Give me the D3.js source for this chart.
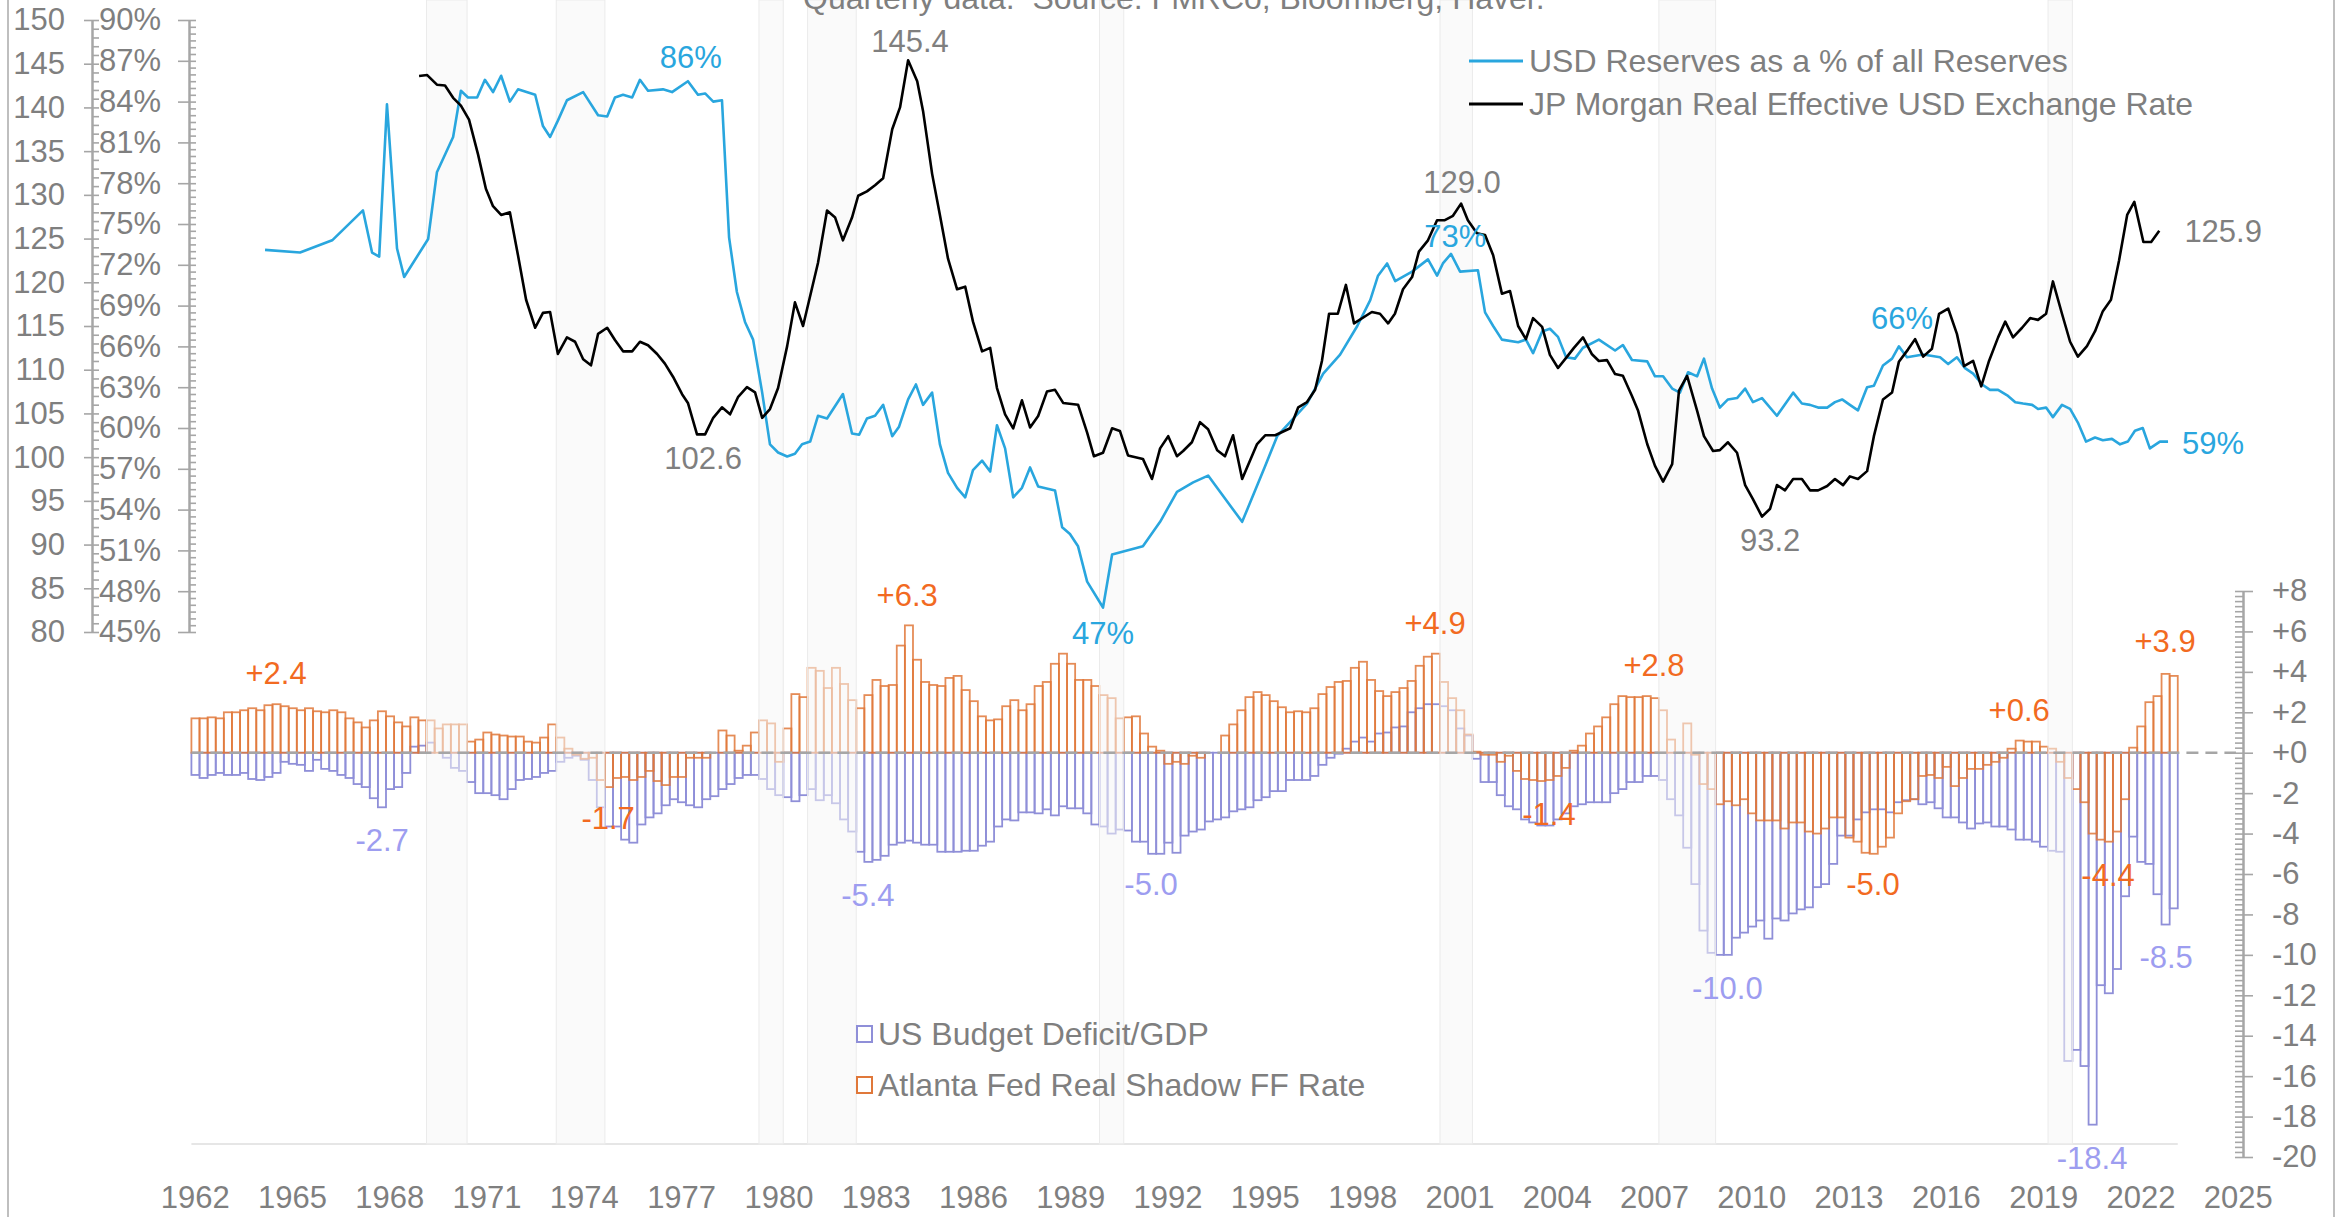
<!DOCTYPE html>
<html>
<head>
<meta charset="utf-8">
<script src="https://cdnjs.cloudflare.com/ajax/libs/d3/7.8.5/d3.min.js"></script>
<style>
  body { margin: 0; background: #fff; }
  text { font-family: Arial, "Liberation Sans", sans-serif; }
</style>
</head>
<body>
<svg id="chart"></svg>
<script>
// ---- data ----
var firstQuarter = 1962.5;   // 1962 Q3, bars are quarterly from here

// US Budget Deficit/GDP, quarterly
var deficit = [
  -1.1,-1.25,-1.1,-1.0,-1.1,-1.1,-1.0,-1.3,-1.35,-1.2,
  -1.0,-0.45,-0.55,-0.6,-0.9,-0.35,-0.8,-0.9,-1.1,-1.25,
  -1.55,-1.7,-2.25,-2.7,-1.8,-1.7,-1.0,0.3,0.35,0.5,
  0.0,-0.25,-0.75,-0.9,-1.45,-2.0,-2.0,-2.1,-2.3,-1.8,
  -1.35,-1.3,-1.2,-1.0,-0.9,-0.45,-0.25,-0.15,-0.35,-1.35,
  -2.7,-3.65,-3.65,-4.3,-4.45,-3.55,-3.2,-3.0,-2.6,-2.3,
  -2.45,
  -2.6,-2.7,-2.3,-2.15,-1.8,-1.55,-1.25,-1.1,-1.1,-1.3,
  -1.8,-2.1,-2.2,-2.4,-2.1,-1.8,-2.35,-2.1,-2.5,-3.3,
  -3.9,-4.9,-5.4,-5.3,-5.1,-4.55,-4.45,-4.35,-4.45,-4.55,
  -4.55,-4.9,-4.9,-4.9,-4.85,-4.85,-4.6,-4.4,-3.65,-3.3,
  -3.35,-2.95,-2.95,-3.0,-2.8,-3.1,-2.65,-2.75,-2.75,-3.0,
  -3.55,-3.65,-4.0,-3.8,-3.85,-4.4,-4.4,-5.0,-5.0,-4.45,
  -4.95,-4.1,-3.9,-3.8,-3.4,
  -3.3,-3.2,-2.9,-2.8,-2.7,-2.35,-2.2,-1.9,-1.9,-1.35,
  -1.35,-1.35,-1.15,-0.6,-0.25,-0.05,0.2,0.55,0.75,0.55,
  0.95,1.0,1.25,1.3,2.0,2.2,2.4,2.4,2.3,2.1,
  1.2,0.85,-0.3,-1.45,-1.45,-2.1,-2.65,-2.8,-3.3,-3.45,
  -3.6,-3.6,-3.3,-3.0,-2.65,-2.55,-2.45,-2.45,-2.45,-2.0,
  -1.8,-1.45,-1.45,-1.15,-1.15,-1.35,-2.3,-3.1,-4.7,-6.5,
  -8.8,-9.9,-10.0,-10.0,
  -9.15,-8.9,-8.6,-8.3,-9.2,-8.2,-8.3,-7.95,-7.75,-7.65,
  -6.65,-6.5,-5.5,-4.1,-4.1,-3.3,-2.95,-2.8,-2.8,-2.95,
  -2.45,-2.35,-2.3,-2.55,-2.45,-2.75,-3.2,-3.2,-3.45,-3.75,
  -3.5,-3.45,-3.65,-3.65,-3.8,-4.3,-4.3,-4.4,-4.65,-4.85,
  -4.9,-15.25,-14.7,-15.5,-18.4,-11.5,-11.9,-10.7,-7.1,-4.15,
  -5.4,-5.5,-7.0,-8.5,-7.7
];

// Atlanta Fed Real Shadow FF Rate, quarterly
var shadowRate = [
  1.7,1.7,1.75,1.7,2.0,2.0,2.1,2.2,2.1,2.35,
  2.4,2.3,2.2,2.1,2.2,2.05,2.0,2.1,2.0,1.7,
  1.5,1.25,1.6,2.05,1.8,1.5,1.3,1.75,1.6,1.6,
  1.2,1.4,1.4,1.4,0.55,0.65,1.0,0.9,0.85,0.8,
  0.8,0.55,0.5,0.75,1.4,0.75,0.2,-0.1,-0.3,-0.25,
  -1.35,-1.7,-1.25,-1.2,-1.35,-1.2,-0.9,-1.4,-1.6,-1.2,
  -1.2,
  -0.25,-0.25,-0.25,0.0,1.1,0.85,0.1,0.35,1.0,1.6,
  1.45,-0.45,1.2,2.9,2.75,4.2,4.05,3.2,4.2,3.4,
  2.6,2.2,2.85,3.6,3.3,3.35,5.3,6.3,4.6,3.5,
  3.35,3.3,3.7,3.8,3.1,2.55,1.8,1.6,1.65,2.3,
  2.6,2.1,2.4,3.3,3.5,4.4,4.9,4.4,3.6,3.6,
  3.3,2.85,2.7,1.7,1.75,1.8,0.95,0.3,0.1,-0.55,
  -0.45,-0.55,-0.15,-0.25,0.0,
  0.0,0.85,1.4,2.1,2.75,3.0,2.85,2.55,2.25,2.0,
  2.05,2.0,2.2,2.9,3.25,3.5,3.55,4.2,4.5,3.6,
  3.05,2.8,3.0,3.2,3.55,4.3,4.75,4.9,3.5,2.7,
  2.1,0.9,0.05,-0.1,-0.1,-0.45,-0.15,-0.9,-1.3,-1.35,
  -1.4,-1.35,-1.15,-0.75,0.1,0.35,0.95,1.3,1.75,2.4,
  2.8,2.75,2.75,2.8,2.7,2.1,0.65,0.0,1.45,-0.1,
  -1.55,-1.8,-2.55,-2.4,
  -2.6,-2.3,-3.0,-3.35,-3.35,-3.35,-3.75,-3.45,-3.45,-3.9,
  -4.0,-3.75,-3.2,-3.2,-4.2,-4.4,-4.95,-5.0,-4.65,-4.2,
  -3.0,-2.4,-2.3,-1.15,-1.1,-1.25,-0.7,-1.65,-1.25,-0.8,
  -0.8,-0.6,-0.45,-0.25,0.2,0.6,0.55,0.55,0.3,0.2,
  -0.45,-1.25,-1.8,-2.45,-4.0,-4.3,-4.4,-3.9,-2.3,0.25,
  1.3,2.5,2.8,3.9,3.8
];

// USD Reserves as a % of all Reserves
var reserveYears = [
  1964.77,1965.85,1966.84,1967.79,1968.07,1968.29,1968.53,1968.84,1969.06,1969.8,
  1970.07,1970.57,1970.81,1971.03,1971.31,1971.55,1971.8,1972.05,1972.32,1972.57,
  1973.1,1973.34,1973.56,1973.8,1974.08,1974.58,1975.04,1975.32,1975.56,1975.81,
  1976.09,1976.33,1976.58,1977.04,1977.32,1977.81,1978.12,1978.34,1978.59,1978.86,
  1979.08,1979.32,1979.57,1979.82,1980.1,1980.34,1980.59,1980.87,1981.11,1981.33,
  1981.58,1981.82,1982.1,1982.59,1982.87,1983.09,1983.33,1983.58,1983.83,1984.11,
  1984.32,1984.6,1984.84,1985.06,1985.34,1985.58,1985.83,1986.11,1986.36,1986.6,
  1986.88,1987.13,1987.34,1987.59,1987.84,1988.11,1988.36,1988.61,1989.13,1989.35,
  1989.59,1989.84,1990.12,1990.61,1990.89,1991.35,1991.84,1992.37,1992.89,1993.39,
  1993.85,1994.9,1995.61,1995.98,1996.44,1996.9,1997.4,1997.92,1998.45,1998.85,
  1999.09,1999.37,1999.62,2000.14,2000.63,2000.91,2001.09,2001.34,2001.62,2002.17,
  2002.39,2002.64,2002.91,2003.41,2003.65,2003.87,2004.15,2004.39,2004.64,2004.89,
  2005.16,2005.41,2005.9,2006.4,2006.64,2006.92,2007.39,2007.63,2007.88,2008.16,
  2008.4,2008.65,2008.93,2009.14,2009.39,2009.63,2009.88,2010.16,2010.41,2010.65,
  2010.93,2011.39,2011.89,2012.16,2012.41,2012.66,2012.94,2013.18,2013.4,2013.64,
  2013.89,2014.17,2014.38,2014.66,2014.94,2015.15,2015.4,2015.9,2016.42,2016.67,
  2016.94,2017.19,2017.44,2017.72,2017.96,2018.21,2018.49,2018.74,2018.98,2019.26,
  2019.44,2019.69,2019.9,2020.18,2020.43,2020.67,2020.92,2021.2,2021.44,2021.72,
  2021.97,2022.21,2022.43,2022.67,2022.89,2023.2,2023.45
];
var reservePct = [
  73.1,72.9,73.8,76.0,72.9,72.6,83.8,73.2,71.1,73.9,
  78.8,81.4,84.8,84.3,84.3,85.6,84.7,85.9,84.0,84.9,
  84.5,82.2,81.4,82.6,84.1,84.7,83.0,82.9,84.3,84.5,
  84.3,85.6,84.8,84.9,84.7,85.5,84.5,84.6,84.0,84.1,
  74.0,70.0,67.8,66.5,62.6,58.8,58.2,57.9,58.1,58.8,
  59.0,60.9,60.7,62.5,59.6,59.5,60.7,60.9,61.7,59.4,
  60.1,62.1,63.2,61.7,62.6,58.8,56.7,55.6,54.9,56.9,
  57.6,56.8,60.2,58.5,54.9,55.6,57.1,55.7,55.4,52.7,
  52.2,51.3,48.7,46.8,50.7,51.0,51.3,53.1,55.3,56.0,
  56.5,53.1,57.2,59.4,60.6,61.8,64.0,65.4,67.5,69.4,
  71.2,72.1,70.8,71.5,72.4,71.2,72.1,72.8,71.5,71.6,
  68.5,67.5,66.5,66.3,66.5,65.5,67.1,67.3,66.7,65.2,
  65.1,65.9,66.5,65.7,66.1,65.0,64.9,63.8,63.8,62.9,
  62.6,64.1,63.8,65.1,62.9,61.5,62.1,62.2,62.9,61.9,
  62.2,60.9,62.6,61.8,61.7,61.5,61.5,61.9,62.1,61.7,
  61.3,63.0,63.1,64.6,65.1,66.0,65.2,65.4,65.2,64.7,
  65.2,64.4,64.0,63.2,62.8,62.8,62.4,61.9,61.8,61.7,
  61.4,61.5,60.8,61.7,61.4,60.4,59.0,59.3,59.1,59.2,
  58.8,59.0,59.8,60.0,58.5,59.0,59.0
];

// JP Morgan Real Effective USD Exchange Rate
var reerYears = [
  1969.52,1969.77,1970.07,1970.32,1970.57,1970.81,1971.06,1971.34,1971.58,1971.8,
  1972.05,1972.32,1972.57,1972.82,1973.1,1973.34,1973.56,1973.8,1974.08,1974.33,
  1974.58,1974.82,1975.04,1975.32,1975.56,1975.81,1976.09,1976.33,1976.58,1976.86,
  1977.1,1977.35,1977.63,1977.81,1978.09,1978.34,1978.59,1978.86,1979.11,1979.36,
  1979.63,1979.88,1980.1,1980.34,1980.59,1980.87,1981.11,1981.36,1981.82,1982.1,
  1982.35,1982.59,1982.87,1983.06,1983.33,1983.58,1983.83,1984.11,1984.35,1984.6,
  1984.88,1985.06,1985.34,1985.58,1985.83,1986.11,1986.36,1986.6,1986.88,1987.13,
  1987.34,1987.59,1987.84,1988.11,1988.36,1988.61,1988.88,1989.13,1989.38,1989.84,
  1990.12,1990.33,1990.61,1990.89,1991.13,1991.38,1991.84,1992.12,1992.37,1992.62,
  1992.89,1993.08,1993.35,1993.6,1993.85,1994.13,1994.37,1994.62,1994.9,1995.36,
  1995.61,1995.92,1996.38,1996.63,1996.9,1997.15,1997.36,1997.58,1997.85,1998.1,
  1998.35,1998.9,1999.15,1999.4,1999.61,1999.86,2000.14,2000.35,2000.63,2000.91,
  2001.15,2001.4,2001.65,2001.86,2002.14,2002.39,2002.64,2002.91,2003.16,2003.41,
  2003.65,2003.87,2004.15,2004.39,2004.64,2004.92,2005.13,2005.41,2005.68,2005.9,
  2006.15,2006.4,2006.64,2006.92,2007.11,2007.39,2007.63,2007.88,2008.16,2008.37,
  2008.62,2008.93,2009.14,2009.42,2009.63,2009.88,2010.16,2010.41,2010.65,2010.93,
  2011.18,2011.39,2011.64,2011.89,2012.16,2012.41,2012.66,2012.94,2013.18,2013.43,
  2013.64,2013.89,2014.17,2014.38,2014.66,2014.94,2015.15,2015.43,2015.65,2015.9,
  2016.17,2016.39,2016.67,2016.94,2017.16,2017.44,2017.69,2017.93,2018.21,2018.43,
  2018.67,2018.95,2019.2,2019.44,2019.69,2019.9,2020.18,2020.43,2020.67,2020.95,
  2021.2,2021.44,2021.69,2021.94,2022.19,2022.41,2022.69,2022.93,2023.18
];
var reerValues = [
  143.6,143.7,142.6,142.5,141.1,140.2,138.6,134.6,130.7,128.7,
  127.7,128.0,123.1,118.0,114.8,116.5,116.6,111.8,113.7,113.2,
  111.2,110.5,114.1,114.8,113.4,112.1,112.1,113.2,112.8,111.8,
  110.7,109.2,107.2,106.2,102.6,102.6,104.5,105.7,104.9,106.9,
  108.0,107.4,104.5,105.5,107.9,112.7,117.7,115.0,122.2,128.2,
  127.4,124.8,127.4,129.9,130.4,131.1,131.9,137.5,140.0,145.4,
  143.0,139.6,132.4,127.7,122.7,119.2,119.5,115.5,112.1,112.5,
  107.9,104.9,103.3,106.5,103.4,104.7,107.5,107.7,106.2,106.0,
  102.8,100.1,100.5,103.3,103.0,100.2,99.8,97.5,101.0,102.4,
  100.1,100.7,101.7,104.0,103.2,100.8,100.1,102.5,97.5,101.5,
  102.5,102.5,103.3,105.7,106.3,107.7,111.0,116.4,116.4,119.7,
  115.3,116.6,116.4,115.3,116.4,119.2,120.6,123.5,124.8,127.1,
  127.1,127.6,129.0,127.1,125.6,125.4,123.1,118.7,119.0,115.0,
  113.5,115.9,114.9,111.7,110.2,111.5,112.5,113.7,111.8,111.0,
  111.1,109.5,109.3,107.0,105.3,101.5,99.0,97.2,99.2,107.6,
  109.3,105.3,102.4,100.7,100.8,101.7,100.5,96.8,95.2,93.2,
  94.1,96.8,96.2,97.5,97.5,96.2,96.2,96.7,97.5,96.8,
  97.8,97.5,98.4,102.4,106.6,107.4,110.9,112.3,113.5,111.5,
  112.4,116.4,117.0,114.1,110.4,111.0,108.1,111.0,113.7,115.5,
  113.7,114.8,115.9,115.7,116.4,120.1,116.4,113.2,111.5,112.7,
  114.4,116.7,118.0,122.5,127.7,129.2,124.6,124.6,125.9
];

// NBER recessions (start, end) in years
var recessions = [
  [1969.75, 1971.0], [1973.75, 1975.25], [1980.0, 1980.75], [1981.5, 1983.0],
  [1990.5, 1991.25], [2001.0, 2002.0], [2007.75, 2009.5], [2019.75, 2020.5]
];

// tick labels
var yearTicks = d3.range(1962, 2026, 3);
var rateTicks = d3.range(80, 151, 5);
var pctTicks = d3.range(45, 91, 3);
var barTicks = d3.range(-20, 9, 2);

// value call-outs: [year, label position in axis units, text]
var rateNotes = [[1984.66, 147.6, "145.4"], [1978.28, 99.9, "102.6"], [2001.68, 131.5, "129.0"],
                 [2011.18, 90.5, "93.2"], [2025.15, 125.9, "125.9"]];
var pctNotes = [[1977.9, 87.3, "86%"], [1990.61, 44.9, "47%"], [2001.47, 74.1, "73%"],
                [2015.25, 68.1, "66%"], [2024.84, 58.9, "59%"]];
var shadowNotes = [[1965.11, 3.96, "+2.4"], [1975.35, -3.22, "-1.7"], [1984.57, 7.77, "+6.3"],
                   [2000.85, 6.39, "+4.9"], [2004.36, -3.02, "-1.4"], [2007.6, 4.31, "+2.8"],
                   [2014.35, -6.49, "-5.0"], [2018.86, 2.13, "+0.6"], [2021.6, -6.04, "-4.4"],
                   [2023.36, 5.5, "+3.9"]];
var deficitNotes = [[1968.38, -4.31, "-2.7"], [1983.36, -7.03, "-5.4"], [1992.09, -6.49, "-5.0"],
                    [2009.86, -11.63, "-10.0"], [2023.39, -10.1, "-8.5"], [2021.11, -20.05, "-18.4"]];

// ---- layout ----
var width = 2338, height = 1217;
var blue = "#29a6de", grey = "#7f7f7f", axisGrey = "#a6a6a6";
var orangeText = "#f26a21", purpleText = "#9d9df0";
var orangeBar = "#e0783a", purpleBar = "#8f8fd8";

var svg = d3.select("#chart").attr("width", width).attr("height", height);

var x = d3.scaleLinear().domain([1962, 2025]).range([175.2, 2218.3]);
var yRate = d3.scaleLinear().domain([80, 150]).range([632, 20]);
var yPct = d3.scaleLinear().domain([45, 90]).range([632, 20]);
var yBar = d3.scaleLinear().domain([-20, 8]).range([1157, 591]);

var quarter = function(i) { return firstQuarter + i / 4; };
var lastEnd = quarter(deficit.length);

// outer frame
svg.append("line").attr("x1", 8).attr("x2", 8).attr("y1", 0).attr("y2", height)
  .attr("stroke", "#bfbfbf").attr("stroke-width", 2);
svg.append("line").attr("x1", 2334).attr("x2", 2334).attr("y1", 0).attr("y2", height)
  .attr("stroke", "#bfbfbf").attr("stroke-width", 2);

// faint base line of the bar panel
svg.append("line")
  .attr("x1", x(firstQuarter)).attr("x2", x(lastEnd))
  .attr("y1", 1144).attr("y2", 1144)
  .attr("stroke", "#e6e6e6").attr("stroke-width", 2);

// bars
function drawBars(values, colour, opacity) {
  svg.append("g").selectAll("rect")
    .data(values)
    .enter()
    .append("rect")
      .attr("x", function(d, i) { return x(quarter(i)); })
      .attr("width", function(d, i) { return x(quarter(i + 1)) - x(quarter(i)); })
      .attr("y", function(d) { return yBar(Math.max(d, 0)); })
      .attr("height", function(d) { return Math.abs(yBar(d) - yBar(0)); })
      .attr("fill", "none")
      .attr("stroke", colour)
      .attr("stroke-width", 1.8)
      .attr("stroke-opacity", opacity);
}
drawBars(deficit, purpleBar, 1);
drawBars(shadowRate, orangeBar, 0.85);

// recession shading sits over the bars, under the lines
svg.append("g").selectAll("rect")
  .data(recessions)
  .enter()
  .append("rect")
    .attr("x", function(d) { return x(d[0]); })
    .attr("width", function(d) { return x(d[1]) - x(d[0]); })
    .attr("y", 0)
    .attr("height", 1144)
    .attr("fill", "#f5f5f5")
    .attr("fill-opacity", 0.55)
    .attr("stroke", "#ebebeb")
    .attr("stroke-width", 1);

// zero line
svg.append("line")
  .attr("x1", x(firstQuarter)).attr("x2", 2236)
  .attr("y1", yBar(0)).attr("y2", yBar(0))
  .attr("stroke", axisGrey).attr("stroke-width", 2.5)
  .attr("stroke-dasharray", "12,7");

// lines
var reserveLine = d3.line()
  .x(function(d, i) { return x(reserveYears[i]); })
  .y(function(d) { return yPct(d); });
var reerLine = d3.line()
  .x(function(d, i) { return x(reerYears[i]); })
  .y(function(d) { return yRate(d); });

svg.append("path").datum(reservePct)
  .attr("d", reserveLine)
  .attr("fill", "none").attr("stroke", blue).attr("stroke-width", 2.6)
  .attr("stroke-linejoin", "round");
svg.append("path").datum(reerValues)
  .attr("d", reerLine)
  .attr("fill", "none").attr("stroke", "#000").attr("stroke-width", 2.6)
  .attr("stroke-linejoin", "round");

// axes
function styleAxis(g) {
  g.selectAll("path.domain").attr("stroke", axisGrey).attr("stroke-width", 2);
  g.selectAll(".tick line").attr("stroke", axisGrey).attr("stroke-width", 1.6);
  g.selectAll(".tick text").attr("fill", grey).style("font-size", "31px")
    .style("font-family", "Arial, 'Liberation Sans', sans-serif");
}

// REER axis
var gRate = svg.append("g").attr("transform", "translate(92,0)");
gRate.append("g").call(d3.axisLeft(yRate).tickValues(d3.range(80, 150.5, 1))
  .tickSize(-7).tickSizeOuter(0).tickFormat("")).call(styleAxis);
gRate.append("g").call(d3.axisLeft(yRate).tickValues(rateTicks)
  .tickSize(8).tickSizeOuter(0).tickPadding(19).tickFormat(d3.format("d"))).call(styleAxis);

// reserves % axis
var gPct = svg.append("g").attr("transform", "translate(189,0)");
gPct.append("g").call(d3.axisLeft(yPct).tickValues(d3.range(45, 90.25, 0.5))
  .tickSize(-7).tickSizeOuter(0).tickFormat("")).call(styleAxis);
gPct.append("g").call(d3.axisLeft(yPct).tickValues(pctTicks)
  .tickSize(11).tickSizeOuter(0).tickPadding(17).tickFormat(function(d) { return d + "%"; }))
  .call(styleAxis);

// bar axis on the right
var gBar = svg.append("g").attr("transform", "translate(2243,0)");
gBar.append("g").call(d3.axisRight(yBar).tickValues(d3.range(-20, 8.1, 0.25))
  .tickSize(-8).tickSizeOuter(0).tickFormat("")).call(styleAxis);
gBar.append("g").call(d3.axisRight(yBar).tickValues(barTicks)
  .tickSize(10).tickSizeOuter(0).tickPadding(19)
  .tickFormat(function(d) { return (d >= 0 ? "+" : "") + d; })).call(styleAxis);

// year labels
var gYear = svg.append("g").attr("transform", "translate(" + (x(1962.6) - x(1962)) + ",1186)");
gYear.call(d3.axisBottom(x).tickValues(yearTicks).tickSize(0).tickPadding(0)
  .tickFormat(d3.format("d"))).call(styleAxis);
gYear.select("path.domain").remove();

// call-outs
function notes(list, yScale, colour) {
  svg.append("g").selectAll("text")
    .data(list)
    .enter()
    .append("text")
      .attr("x", function(d) { return x(d[0]); })
      .attr("y", function(d) { return yScale(d[1]); })
      .attr("dy", "0.35em")
      .attr("text-anchor", "middle")
      .attr("fill", colour)
      .style("font-size", "31px")
      .text(function(d) { return d[2]; });
}
notes(rateNotes, yRate, grey);
notes(pctNotes, yPct, blue);
notes(shadowNotes, yBar, orangeText);
notes(deficitNotes, yBar, purpleText);

// source line (cut off at the top, as in the original)
svg.append("text").attr("x", 803).attr("y", 9)
  .attr("fill", grey).style("font-size", "32px").style("white-space", "pre")
  .text("Quarterly data.  Source: FMRCo, Bloomberg, Haver.");

// line legend
var lineLegend = [["USD Reserves as a % of all Reserves", blue], ["JP Morgan Real Effective USD Exchange Rate", "#000"]];
var gLeg = svg.append("g").attr("transform", "translate(1469,61)");
lineLegend.forEach(function(d, i) {
  gLeg.append("line").attr("x1", 0).attr("x2", 54).attr("y1", i * 43).attr("y2", i * 43)
    .attr("stroke", d[1]).attr("stroke-width", 3);
  gLeg.append("text").attr("x", 60).attr("y", i * 43).attr("dy", "0.35em")
    .attr("fill", grey).style("font-size", "32px").text(d[0]);
});

// bar legend
var barLegend = [["US Budget Deficit/GDP", purpleBar], ["Atlanta Fed Real Shadow FF Rate", orangeBar]];
var gLeg2 = svg.append("g").attr("transform", "translate(857,1034)");
barLegend.forEach(function(d, i) {
  gLeg2.append("rect").attr("x", 0).attr("y", i * 51 - 8).attr("width", 15).attr("height", 16)
    .attr("fill", "none").attr("stroke", d[1]).attr("stroke-width", 2);
  gLeg2.append("text").attr("x", 21).attr("y", i * 51).attr("dy", "0.35em")
    .attr("fill", grey).style("font-size", "32px").text(d[0]);
});
</script>
</body>
</html>
